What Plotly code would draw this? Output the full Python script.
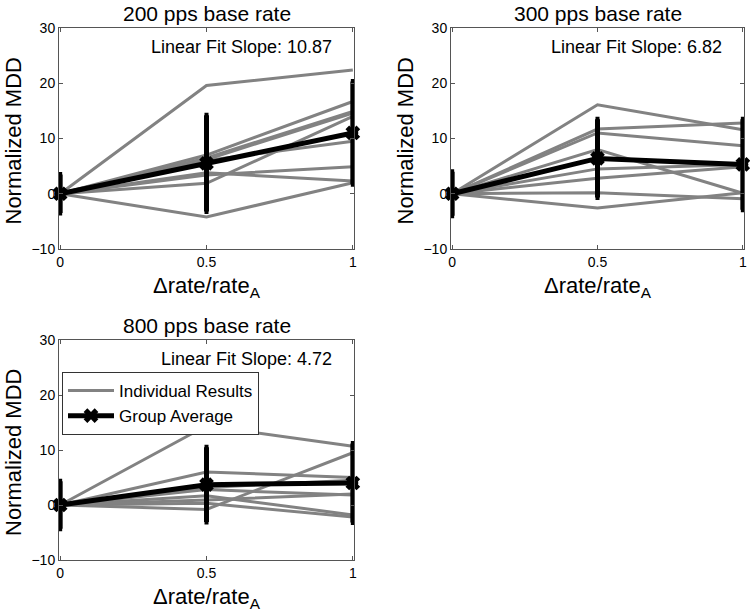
import plotly.graph_objects as go

# ---------------- data ----------------
x_levels = [0, 0.5, 1]
panel_titles = ["200 pps base rate", "300 pps base rate", "800 pps base rate"]
slope_labels = ["Linear Fit Slope: 10.87", "Linear Fit Slope: 6.82", "Linear Fit Slope: 4.72"]

indiv_200 = [
    [0, 19.6, 22.4],
    [0, 7.0, 16.7],
    [0, 6.5, 14.9],
    [0, 6.2, 14.6],
    [0, 6.0, 9.5],
    [0, 1.9, 14.0],
    [0, 3.8, 2.3],
    [0, 3.4, 4.9],
    [0, -4.2, 2.0],
]
indiv_300 = [
    [0, 16.1, 11.6],
    [0, 11.7, 12.8],
    [0, 11.0, 8.7],
    [0, 8.0, 0.1],
    [0, 2.8, 4.9],
    [0, 0.2, -0.9],
    [0, -2.6, 0.2],
    [0, 4.5, 5.3],
]
indiv_800 = [
    [0, 14.4, 10.7],
    [0, -0.8, 9.5],
    [0, 6.0, 5.0],
    [0, 3.2, 4.5],
    [0, 2.8, 1.8],
    [0, 1.7, -1.8],
    [0, 0.3, -2.2],
    [0, 0.9, 2.0],
]
mean_200 = [0, 5.5, 11.0]
mean_300 = [0, 6.4, 5.3]
mean_800 = [0, 3.7, 4.0]
err_200 = [3.5, 8.7, 9.3]
err_300 = [4.0, 7.1, 8.2]
err_800 = [4.3, 6.8, 7.2]

y_ticks = [-10, 0, 10, 20, 30]
x_ticks = [0, 0.5, 1]
x_tick_text = ["0", "0.5", "1"]

# ---------------- layout geometry ----------------
W, H = 750, 614


def px(X):
    return X / W


def py(Y):
    return 1 - Y / H


panels = [
    dict(x0=59, x1=354, y0=28, y1=249),
    dict(x0=451, x1=744, y0=28, y1=249),
    dict(x0=59, x1=354, y0=340, y1=560),
]
FONT = "Liberation Sans, Arial, Helvetica, sans-serif"
GRAY = "#828282"
AXIS = "#555555"

fig = go.Figure()
data_sets = [
    (indiv_200, mean_200, err_200),
    (indiv_300, mean_300, err_300),
    (indiv_800, mean_800, err_800),
]

layout_axes = {}
annotations = []
for i, (p, (indiv, mean, err)) in enumerate(zip(panels, data_sets)):
    n = i + 1
    xa = "x" if n == 1 else f"x{n}"
    ya = "y" if n == 1 else f"y{n}"
    is_legend_panel = (n == 3)
    for j, row in enumerate(indiv):
        fig.add_trace(go.Scatter(
            x=x_levels, y=row, mode="lines",
            line=dict(color=GRAY, width=3),
            name="Individual Results",
            showlegend=(is_legend_panel and j == 0),
            xaxis=xa, yaxis=ya, hoverinfo="skip"))
    fig.add_trace(go.Scatter(
        x=x_levels, y=mean, mode="markers",
        marker=dict(symbol="circle", size=11, color="black"),
        showlegend=False, xaxis=xa, yaxis=ya, cliponaxis=False))
    fig.add_trace(go.Scatter(
        x=x_levels, y=mean, mode="lines+markers",
        line=dict(color="black", width=5),
        marker=dict(symbol="x", size=13, color="black"),
        error_y=dict(type="data", array=err, color="black", thickness=5, width=2),
        name="Group Average",
        showlegend=is_legend_panel,
        xaxis=xa, yaxis=ya, cliponaxis=False))

    xd = [px(p["x0"]), px(p["x1"])]
    yd = [py(p["y1"]), py(p["y0"])]
    axis_common = dict(showline=True, mirror="ticks", linecolor=AXIS, linewidth=1,
                       ticks="inside", ticklen=4, tickcolor=AXIS, showgrid=False,
                       zeroline=False, ticklabeloverflow="allow", automargin=False,
                       tickfont=dict(family=FONT, size=14, color="black"))
    layout_axes["xaxis" if n == 1 else f"xaxis{n}"] = dict(
        domain=xd, anchor=ya, range=[-0.004, 1.004],
        tickvals=x_ticks, ticktext=x_tick_text, **axis_common)
    layout_axes["yaxis" if n == 1 else f"yaxis{n}"] = dict(
        domain=yd, anchor=xa, range=[-10, 30], tickvals=y_ticks, **axis_common)

    cx = (p["x0"] + p["x1"]) / 2
    # panel title
    annotations.append(dict(text=panel_titles[i], x=px(cx), y=py(p["y0"] - 15),
                            xref="paper", yref="paper", xanchor="center", yanchor="middle",
                            showarrow=False, font=dict(family=FONT, size=21, color="black")))
    # slope text
    annotations.append(dict(text=slope_labels[i], x=px(p["x1"] - 20), y=py(p["y0"] + 19),
                            xref="paper", yref="paper", xanchor="right", yanchor="middle",
                            showarrow=False, font=dict(family=FONT, size=18, color="black")))
    # x axis title
    annotations.append(dict(text="Δrate/rate<sub>A</sub>", x=px(cx), y=py(p["y1"] + 22),
                            xref="paper", yref="paper", xanchor="center", yanchor="top",
                            showarrow=False, font=dict(family=FONT, size=22, color="black")))
    # y axis title
    annotations.append(dict(text="Normalized MDD", x=px(p["x0"] - 46),
                            y=py((p["y0"] + p["y1"]) / 2 + 3),
                            xref="paper", yref="paper", xanchor="center", yanchor="middle",
                            textangle=-90, showarrow=False,
                            font=dict(family=FONT, size=22, color="black")))

fig.update_layout(
    template="none",
    width=W, height=H,
    margin=dict(l=0, r=0, t=0, b=0, pad=0),
    paper_bgcolor="white", plot_bgcolor="white",
    font=dict(family=FONT, color="black"),
    annotations=annotations,
    legend=dict(x=px(62), y=py(372), xanchor="left", yanchor="top",
                bgcolor="white", bordercolor="#333333", borderwidth=1,
                font=dict(family=FONT, size=17, color="black"),
                itemwidth=46, tracegroupgap=0),
    **layout_axes,
)

fig.write_html("out.html", config={"displayModeBar": False},
               post_script="document.body.style.margin='0';document.body.style.overflow='hidden';")
